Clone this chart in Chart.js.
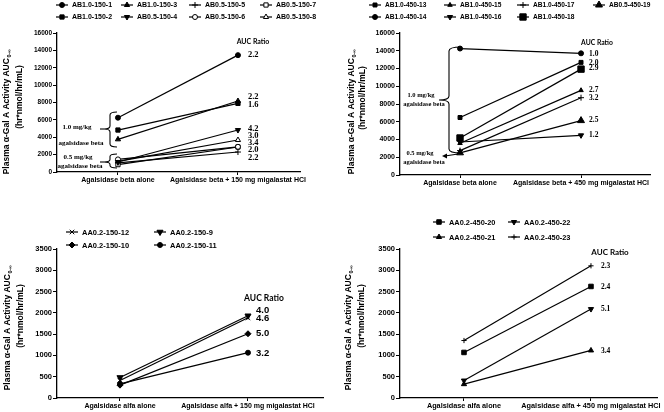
<!DOCTYPE html>
<html>
<head>
<meta charset="utf-8">
<script src="https://cdn.jsdelivr.net/npm/chart.js"></script>
<style>
  html,body{margin:0;padding:0;background:#fff;}
  #wrap{position:relative;width:664px;height:412px;overflow:hidden;background:#fff;}
  canvas{position:absolute;}
</style>
</head>
<body>
<div id="wrap">
  <canvas id="c1" width="332" height="206" style="left:0;top:0"></canvas>
  <canvas id="c2" width="332" height="206" style="left:332px;top:0"></canvas>
  <canvas id="c3" width="332" height="206" style="left:0;top:206px"></canvas>
  <canvas id="c4" width="332" height="206" style="left:332px;top:206px"></canvas>
</div>
<script>
/* ===============================
   DATA
================================ */
const betaCats150 = ["Agalsidase beta alone", "Agalsidase beta + 150 mg migalastat HCl"];
const betaCats450 = ["Agalsidase beta alone", "Agalsidase beta + 450 mg migalastat HCl"];
const alfaCats150 = ["Agalsidase alfa alone", "Agalsidase alfa + 150 mg migalastat HCl"];
const alfaCats450 = ["Agalsidase alfa alone", "Agalsidase alfa + 450 mg migalastat HCl"];

// top left
const p1Names  = ["AB1.0-150-1","AB1.0-150-2","AB1.0-150-3","AB0.5-150-4","AB0.5-150-5","AB0.5-150-6","AB0.5-150-7","AB0.5-150-8"];
const p1Alone  = [6250, 4830, 3760, 1150, 1050, 1450, 850, 1230];
const p1Combo  = [13450, 7900, 8170, 4830, 2300, 2900, 2880, 3680];
const p1Ratios = ["2.2","1.6","2.2","4.2","2.2","2.0","3.4","3.0"];

// top right
const p2Names  = ["AB1.0-450-13","AB1.0-450-14","AB1.0-450-15","AB1.0-450-16","AB1.0-450-17","AB1.0-450-18","AB0.5-450-19"];
const p2Alone  = [6480, 14250, 3580, 3720, 2750, 4170, 2500];
const p2Combo  = [12690, 13710, 9540, 4470, 8710, 11930, 6130];
const p2Ratios = ["2.0","1.0","2.7","1.2","3.2","2.9","2.5"];

// bottom left
const p3Names  = ["AA0.2-150-12","AA0.2-150-10","AA0.2-150-9","AA0.2-150-11"];
const p3Alone  = [413, 302, 483, 333];
const p3Combo  = [1885, 1509, 1932, 1064];
const p3Ratios = ["4.6","5.0","4.0","3.2"];

// bottom right
const p4Names  = ["AA0.2-450-20","AA0.2-450-21","AA0.2-450-22","AA0.2-450-23"];
const p4Alone  = [1070, 325, 410, 1350];
const p4Combo  = [2620, 1117, 2089, 3105];
const p4Ratios = ["2.4","3.4","5.1","2.3"];

const yTicksBeta = [0, 16000, 2000];   // min, max, step
const yTicksAlfa = [0, 3500, 500];

/* ===============================
   MARKERS
================================ */
const p1Marks = [
  {ps:"circle", r:2.5}, {ps:"rect", r:3}, {ps:"triangle", r:3}, {ps:"triangle", rot:180, r:3},
  {ps:"cross", r:3}, {ps:"circle", r:2.5, open:true}, {ps:"rect", r:3, open:true}, {ps:"triangle", r:3, open:true}
];
const p2Marks = [
  {ps:"rect", r:2.8}, {ps:"circle", r:2.5}, {ps:"triangle", r:2.6}, {ps:"triangle", rot:180, r:3},
  {ps:"cross", r:3}, {ps:"rect", r:4.5}, {ps:"triangle", r:4}
];
const p3Marks = [
  {ps:"crossRot", r:3.2}, {ps:"rectRot", r:3}, {ps:"triangle", rot:180, r:3.5}, {ps:"circle", r:2.5}
];
const p4Marks = [
  {ps:"rect", r:3.2}, {ps:"triangle", r:3}, {ps:"triangle", rot:180, r:3}, {ps:"cross", r:2.6}
];

const SANS = '"Liberation Sans", Arial, sans-serif';
const SERIF = '"Liberation Serif", "Times New Roman", serif';

function makeSets(names, alone, combo, marks){
  return names.map((n,i)=>({
    label:n,
    data:[{x:0, y:alone[i]}, {x:1, y:combo[i]}],
    borderColor:"#000",
    borderWidth:1.2,
    pointStyle:marks[i].ps,
    rotation:marks[i].rot || 0,
    pointRadius:marks[i].r,
    pointBorderWidth:1,
    pointBorderColor:"#000",
    pointBackgroundColor:marks[i].open ? "#fff" : "#000",
    fill:false
  }));
}

function drawMark(ctx, m, x, y){
  ctx.fillStyle = m.open ? "#fff" : "#000";
  ctx.strokeStyle = "#000";
  ctx.lineWidth = 1;
  Chart.helpers.drawPoint(ctx, {pointStyle:m.ps, rotation:m.rot || 0, radius:m.r, borderWidth:1}, x, y);
}

function yTitle(ctx, x, cy, x2, cy2, size){
  const main = "Plasma \u03B1-Gal A Activity AUC", sub = "0-\u221E";
  ctx.save();
  ctx.fillStyle = "#000";
  ctx.textBaseline = "middle";
  ctx.textAlign = "left";
  ctx.translate(x, cy);
  ctx.rotate(-Math.PI/2);
  ctx.font = `bold ${size}px ${SANS}`;
  const w1 = ctx.measureText(main).width;
  ctx.font = `bold ${size*0.62}px ${SANS}`;
  const w2 = ctx.measureText(sub).width;
  const s = -(w1+w2)/2;
  ctx.font = `bold ${size}px ${SANS}`;
  ctx.fillText(main, s, 0);
  ctx.font = `bold ${size*0.62}px ${SANS}`;
  ctx.fillText(sub, s+w1+0.5, size*0.32);
  ctx.restore();

  ctx.save();
  ctx.fillStyle = "#000";
  ctx.textBaseline = "middle";
  ctx.textAlign = "center";
  ctx.translate(x2, cy2);
  ctx.rotate(-Math.PI/2);
  ctx.font = `bold ${size}px ${SANS}`;
  ctx.fillText("(hr*nmol/hr/mL)", 0, 0);
  ctx.restore();
}

function brace(ctx, b){
  const r = b.r || 3;
  ctx.beginPath();
  ctx.moveTo(b.xe, b.y1);
  ctx.quadraticCurveTo(b.xs, b.y1, b.xs, b.y1+r);
  ctx.lineTo(b.xs, b.ty-r);
  ctx.quadraticCurveTo(b.xs, b.ty, b.xt, b.ty);
  ctx.quadraticCurveTo(b.xs, b.ty, b.xs, b.ty+r);
  ctx.lineTo(b.xs, b.y2-r);
  ctx.quadraticCurveTo(b.xs, b.y2, b.xe, b.y2);
  ctx.stroke();
  if(b.stub){
    ctx.beginPath(); ctx.moveTo(b.xt, b.ty); ctx.lineTo(b.xt-b.stub, b.ty); ctx.stroke();
  }
}

/* ===============================
   DECOR PLUGIN (legend, titles, ratios, notes)
================================ */
function decor(cfg, names, marks, ratios){
  return {
    id:"decor",
    afterDraw(chart){
      const ctx = chart.ctx, xs = chart.scales.x, ys = chart.scales.y;
      ctx.save();
      // legend, two rows, column major
      names.forEach((n,i)=>{
        const x = cfg.legCols[Math.floor(i/2)], y = cfg.legRows[i%2];
        ctx.strokeStyle = "#000"; ctx.lineWidth = 1.2;
        ctx.beginPath(); ctx.moveTo(x-6, y); ctx.lineTo(x+6, y); ctx.stroke();
        drawMark(ctx, marks[i], x, y);
        ctx.fillStyle = "#000";
        ctx.font = `bold ${cfg.legFont}px ${SANS}`;
        ctx.textAlign = "left"; ctx.textBaseline = "middle";
        ctx.fillText(n, x+10, y+0.5);
      });
      // axis title
      yTitle(ctx, cfg.t1[0], cfg.t1[1], cfg.t2[0], cfg.t2[1], cfg.tSize);
      // AUC ratio header and values
      ctx.fillStyle = "#000";
      ctx.textBaseline = "middle";
      ctx.textAlign = "center";
      ctx.font = `bold ${cfg.aucFont}px Lato, ${SANS}`;
      ctx.fillText("AUC Ratio", cfg.auc[0], cfg.auc[1]);
      ctx.textAlign = "left";
      ctx.font = cfg.ratioFont;
      const rx = xs.getPixelForValue(1) + cfg.ratioDx;
      ratios.forEach((t,i)=>{
        ctx.fillText(t, rx, ys.getPixelForValue(cfg.ratioAt[i]));
      });
      // braces and notes
      ctx.strokeStyle = "#000"; ctx.lineWidth = 1.1;
      (cfg.braces || []).forEach(b => brace(ctx, b));
      if(cfg.arrow){
        const a = cfg.arrow;
        ctx.beginPath(); ctx.moveTo(a[0], a[1]); ctx.lineTo(a[2]+3, a[3]); ctx.stroke();
        ctx.beginPath(); ctx.moveTo(a[2], a[3]); ctx.lineTo(a[2]+5, a[3]-2.5); ctx.lineTo(a[2]+5, a[3]+2.5); ctx.closePath(); ctx.fillStyle="#000"; ctx.fill();
      }
      ctx.textAlign = "center";
      ctx.font = cfg.noteFont || `bold 7px ${SERIF}`;
      (cfg.notes || []).forEach(n => ctx.fillText(n[0], n[1], n[2]));
      ctx.restore();
    }
  };
}

function scalesFor(cats, xr, yt, yWidth, xH, tickSize, xSize){
  return {
    x:{
      type:"linear", min:xr[0], max:xr[1],
      afterBuildTicks: s => { s.ticks = [{value:0},{value:1}]; },
      afterFit: s => { s.height = xH; },
      ticks:{callback: v => cats[v], autoSkip:false, maxRotation:0, minRotation:0, padding:1, color:"#000",
             font:{family:SANS, size:xSize, weight:"bold"}},
      grid:{drawOnChartArea:false, tickLength:3, color:"#000", lineWidth:1},
      border:{color:"#000", width:1.3}
    },
    y:{
      min:yt[0], max:yt[1],
      afterFit: s => { s.width = yWidth; },
      ticks:{stepSize:yt[2], padding:1, color:"#000", callback: v => String(v),
             font:{family:SANS, size:tickSize, weight:"bold"}},
      grid:{drawOnChartArea:false, tickLength:4, color:"#000", lineWidth:1},
      border:{color:"#000", width:1.3}
    }
  };
}

function panel(id, sets, scales, padding, plugin){
  return new Chart(document.getElementById(id), {
    type:"line",
    data:{datasets:sets},
    options:{
      responsive:false, animation:false, events:[],
      layout:{padding},
      plugins:{legend:{display:false}, tooltip:{enabled:false}},
      scales
    },
    plugins:[plugin]
  });
}

/* ===============================
   CHARTS
================================ */
// top left
panel("c1",
  makeSets(p1Names, p1Alone, p1Combo, p1Marks),
  scalesFor(betaCats150, [-0.508, 1.517], yTicksBeta, 57, 14, 6.5, 7),
  {top:33, right:32, bottom:20, left:0},
  decor({
    legCols:[62,127,195,266], legRows:[5,17], legFont:7,
    t1:[7,112], t2:[20,97], tSize:8.5,
    auc:[253,42], aucFont:7,
    ratioFont:`bold 8.5px ${SERIF}`, ratioDx:10,
    ratioAt:[13450, 7700, 8620, 4940, 1610, 2530, 3330, 4140],
    braces:[
      {xt:104, xs:110, xe:117, y1:112, y2:147, ty:129, r:3, stub:4},
      {xt:104, xs:110, xe:117, y1:154, y2:168, ty:162, r:2.5, stub:4}
    ],
    noteFont:`bold 7px ${SERIF}`,
    notes:[["1.0 mg/kg",77,127],["agalsidase beta",81,143],["0.5 mg/kg",78,157],["agalsidase beta",80,166]]
  }, p1Names, p1Marks, p1Ratios)
);

// top right
panel("c2",
  makeSets(p2Names, p2Alone, p2Combo, p2Marks),
  scalesFor(betaCats450, [-0.496, 1.570], yTicksBeta, 68, 14, 7, 7),
  {top:33, right:14, bottom:17, left:0},
  decor({
    legCols:[43,118,191,267], legRows:[5,17], legFont:6.6,
    t1:[20,112], t2:[31,98], tSize:8.5,
    auc:[265,43], aucFont:6.8,
    ratioFont:`bold 7.5px ${SERIF}`, ratioDx:8,
    ratioAt:[12610, 13630, 9540, 4545, 8630, 12040, 6135],
    braces:[
      {xt:107, xs:117, xe:129, y1:47, y2:153, ty:100, r:4}
    ],
    arrow:[126,154,110,156],
    noteFont:`bold 6.5px ${SERIF}`,
    notes:[["1.0 mg/kg",89,95],["agalsidase beta",92,104],["0.5 mg/kg",88,153],["agalsidase beta",92,162]]
  }, p2Names, p2Marks, p2Ratios)
);

// bottom left
panel("c3",
  makeSets(p3Names, p3Alone, p3Combo, p3Marks),
  scalesFor(alfaCats150, [-0.492, 1.586], yTicksAlfa, 57, 14, 7.5, 7),
  {top:43, right:9, bottom:0, left:0},
  decor({
    legCols:[72,160], legRows:[26,39], legFont:7.5,
    t1:[8,122], t2:[21,110], tSize:8.5,
    auc:[264,92], aucFont:8.5,
    ratioFont:`bold 9.5px ${SANS}`, ratioDx:8,
    ratioAt:[1861, 1509, 2049, 1040]
  }, p3Names, p3Marks, p3Ratios)
);

// bottom right
panel("c4",
  makeSets(p4Names, p4Alone, p4Combo, p4Marks),
  scalesFor(alfaCats450, [-0.504, 1.520], yTicksAlfa, 68, 14, 7.5, 7.3),
  {top:43, right:7, bottom:0, left:0},
  decor({
    legCols:[107,182], legRows:[16,31], legFont:7.4,
    t1:[17,122], t2:[30,110], tSize:8.5,
    auc:[278,46], aucFont:8,
    ratioFont:`bold 7.5px ${SERIF}`, ratioDx:10,
    ratioAt:[2612, 1110, 2096, 3105]
  }, p4Names, p4Marks, p4Ratios)
);
</script>
</body>
</html>
